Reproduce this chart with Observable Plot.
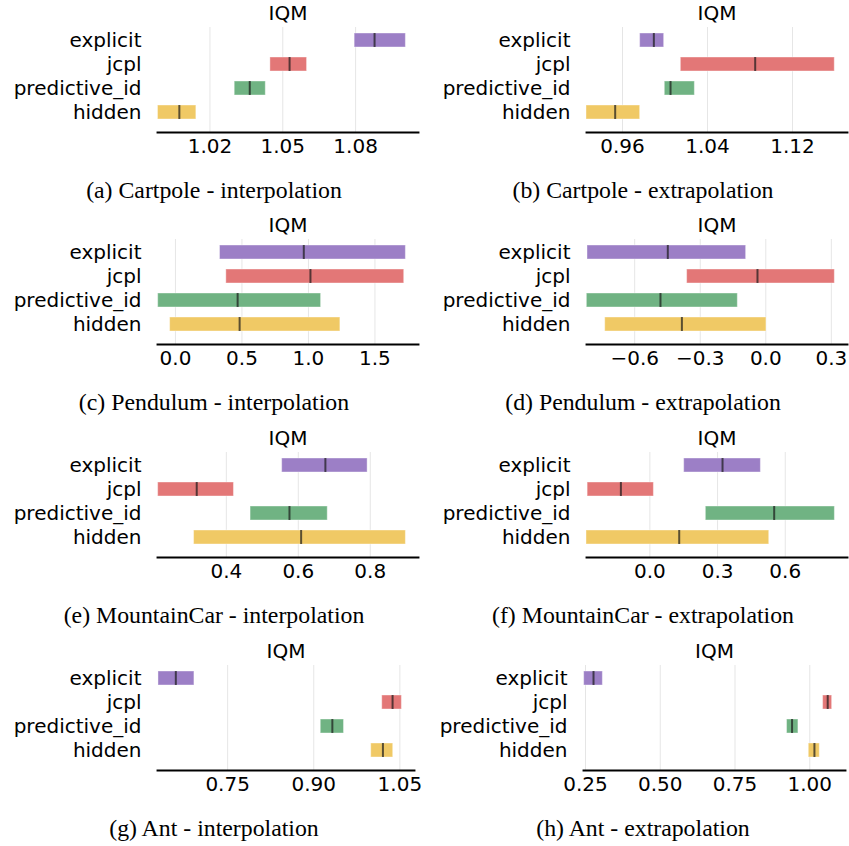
<!DOCTYPE html>
<html>
<head>
<meta charset="utf-8">
<script src="https://cdn.jsdelivr.net/npm/d3@7"></script>
<script src="https://cdn.jsdelivr.net/npm/@observablehq/plot@0.6"></script>
<style>
  html, body { margin: 0; padding: 0; background: #fff; }
  #root { position: relative; width: 849px; height: 846px; overflow: hidden; background: #fff; }
  .panel { position: absolute; }
  .caption { position: absolute; font-family: "Liberation Serif", "Times New Roman", serif; font-size: 23.8px; color: #000; text-align: center; white-space: nowrap; height: 28px; line-height: 28px; }
</style>
</head>
<body>
<div id="root"></div>
<script>
// ---------- data ----------
const methods = ["explicit", "jcpl", "predictive_id", "hidden"];
const methodColors = ["#9c7fc6", "#e37777", "#70b383", "#f0c965"];

const cartpoleInterpLow    = [1.0796, 1.0449, 1.0302, 0.9986];
const cartpoleInterpHigh   = [1.1007, 1.0600, 1.0430, 1.0144];
const cartpoleInterpMedian = [1.0878, 1.0528, 1.0364, 1.0074];
const cartpoleInterpTicks  = [1.02, 1.05, 1.08];
const cartpoleInterpLabels = ["1.02", "1.05", "1.08"];

const cartpoleExtrapLow    = [0.9766, 1.0149, 0.9998, 0.9261];
const cartpoleExtrapHigh   = [0.9992, 1.1598, 1.0281, 0.9766];
const cartpoleExtrapMedian = [0.9895, 1.0849, 1.0052, 0.9531];
const cartpoleExtrapTicks  = [0.96, 1.04, 1.12];
const cartpoleExtrapLabels = ["0.96", "1.04", "1.12"];

const pendulumInterpLow    = [0.335, 0.3825, -0.13, -0.04];
const pendulumInterpHigh   = [1.7325, 1.72, 1.095, 1.24];
const pendulumInterpMedian = [0.965, 1.015, 0.4675, 0.4825];
const pendulumInterpTicks  = [0.0, 0.5, 1.0, 1.5];
const pendulumInterpLabels = ["0.0", "0.5", "1.0", "1.5"];

const pendulumExtrapLow    = [-0.816, -0.360, -0.819, -0.735];
const pendulumExtrapHigh   = [-0.090, 0.316, -0.128, 0.003];
const pendulumExtrapMedian = [-0.4485, -0.038, -0.482, -0.384];
const pendulumExtrapTicks  = [-0.6, -0.3, 0.0, 0.3];
const pendulumExtrapLabels = ["\u22120.6", "\u22120.3", "0.0", "0.3"];

const mountainInterpLow    = [0.5552, 0.2106, 0.4674, 0.3104];
const mountainInterpHigh   = [0.7926, 0.4212, 0.6818, 0.8989];
const mountainInterpMedian = [0.6753, 0.3178, 0.5755, 0.6079];
const mountainInterpTicks  = [0.4, 0.6, 0.8];
const mountainInterpLabels = ["0.4", "0.6", "0.8"];

const mountainExtrapLow    = [0.152, -0.276, 0.248, -0.281];
const mountainExtrapHigh   = [0.492, 0.0177, 0.820, 0.529];
const mountainExtrapMedian = [0.322, -0.1286, 0.551, 0.130];
const mountainExtrapTicks  = [0.0, 0.3, 0.6];
const mountainExtrapLabels = ["0.0", "0.3", "0.6"];

const antInterpLow    = [0.6295, 1.0193, 0.9122, 1.0001];
const antInterpHigh   = [0.6921, 1.0535, 0.9527, 1.0384];
const antInterpMedian = [0.6597, 1.0373, 0.9324, 1.0205];
const antInterpTicks  = [0.75, 0.90, 1.05];
const antInterpLabels = ["0.75", "0.90", "1.05"];

const antExtrapLow    = [0.2455, 1.0446, 0.924, 0.9967];
const antExtrapHigh   = [0.308, 1.0748, 0.962, 1.0335];
const antExtrapMedian = [0.2768, 1.06, 0.9408, 1.0156];
const antExtrapTicks  = [0.25, 0.50, 0.75, 1.00];
const antExtrapLabels = ["0.25", "0.50", "0.75", "1.00"];

const axisTitle = "IQM";
const captions = [
  "(a) Cartpole - interpolation", "(b) Cartpole - extrapolation",
  "(c) Pendulum - interpolation", "(d) Pendulum - extrapolation",
  "(e) MountainCar - interpolation", "(f) MountainCar - extrapolation",
  "(g) Ant - interpolation", "(h) Ant - extrapolation"
];

// ---------- layout ----------
const panels = [
  {low: cartpoleInterpLow, high: cartpoleInterpHigh, median: cartpoleInterpMedian, ticks: cartpoleInterpTicks, labels: cartpoleInterpLabels, domain: [0.9984, 1.1059], col: 0, row: 0, mr: 6},
  {low: cartpoleExtrapLow, high: cartpoleExtrapHigh, median: cartpoleExtrapMedian, ticks: cartpoleExtrapTicks, labels: cartpoleExtrapLabels, domain: [0.9261, 1.1718], col: 1, row: 0, mr: 2},
  {low: pendulumInterpLow, high: pendulumInterpHigh, median: pendulumInterpMedian, ticks: pendulumInterpTicks, labels: pendulumInterpLabels, domain: [-0.135, 1.8275], col: 0, row: 1, mr: 6},
  {low: pendulumExtrapLow, high: pendulumExtrapHigh, median: pendulumExtrapMedian, ticks: pendulumExtrapTicks, labels: pendulumExtrapLabels, domain: [-0.8206, 0.374], col: 1, row: 1, mr: 2},
  {low: mountainInterpLow, high: mountainInterpHigh, median: mountainInterpMedian, ticks: mountainInterpTicks, labels: mountainInterpLabels, domain: [0.2088, 0.934], col: 0, row: 2, mr: 6},
  {low: mountainExtrapLow, high: mountainExtrapHigh, median: mountainExtrapMedian, ticks: mountainExtrapTicks, labels: mountainExtrapLabels, domain: [-0.281, 0.876], col: 1, row: 2, mr: 2},
  {low: antInterpLow, high: antInterpHigh, median: antInterpMedian, ticks: antInterpTicks, labels: antInterpLabels, domain: [0.6278, 1.0755], col: 0, row: 3, mr: 10, ml: 157},
  {low: antExtrapLow, high: antExtrapHigh, median: antExtrapMedian, ticks: antExtrapTicks, labels: antExtrapLabels, domain: [0.2433, 1.1195], col: 1, row: 3, mr: 4, ml: 159}
];
const rowTop = [0, 212, 425, 638];
const colLeft = [0, 424];
const colWidth = [424, 425];
const colMarginLeft = [157, 162];
const captionCenter = [214, 643];

const root = document.getElementById("root");

panels.forEach((p, k) => {
  const data = methods.map((m, i) => ({method: m, low: p.low[i], high: p.high[i], median: p.median[i]}));
  const chart = Plot.plot({
    width: colWidth[p.col],
    height: 165,
    marginLeft: p.ml ?? colMarginLeft[p.col],
    marginRight: p.mr,
    marginTop: 27,
    marginBottom: 33,
    style: {fontFamily: "DejaVu Sans, sans-serif", fontSize: "20px", color: "black", background: "transparent", overflow: "visible"},
    x: {domain: p.domain, ticks: p.ticks, tickFormat: d => p.labels[p.ticks.indexOf(d)], tickSize: 0, tickPadding: 6, grid: true, label: null},
    y: {domain: methods, paddingInner: 0.4, paddingOuter: 0.2, insetBottom: 6, tickSize: 0, tickPadding: 16, label: null},
    color: {domain: methods, range: methodColors},
    marks: [
      Plot.barX(data, {x1: "low", x2: "high", y: "method", fill: "method", stroke: "white", strokeOpacity: 0.4, strokeWidth: 1}),
      Plot.tickX(data, {x: "median", y: "method", stroke: "#1a1a1a", strokeOpacity: 0.7, strokeWidth: 2}),
      Plot.frame({anchor: "bottom", stroke: "black", strokeWidth: 1.9}),
      Plot.text([axisTitle], {text: d => d, frameAnchor: "top", dy: -14, lineAnchor: "middle", fontSize: 20, fill: "black"})
    ]
  });
  chart.classList.add("panel");
  chart.style.left = colLeft[p.col] + "px";
  chart.style.top = rowTop[p.row] + "px";
  root.appendChild(chart);

  const cap = document.createElement("div");
  cap.className = "caption";
  cap.textContent = captions[k];
  cap.style.left = (captionCenter[p.col] - 200) + "px";
  cap.style.width = "400px";
  cap.style.top = (rowTop[p.row] + 190 - 14) + "px";
  root.appendChild(cap);
});
</script>
</body>
</html>
